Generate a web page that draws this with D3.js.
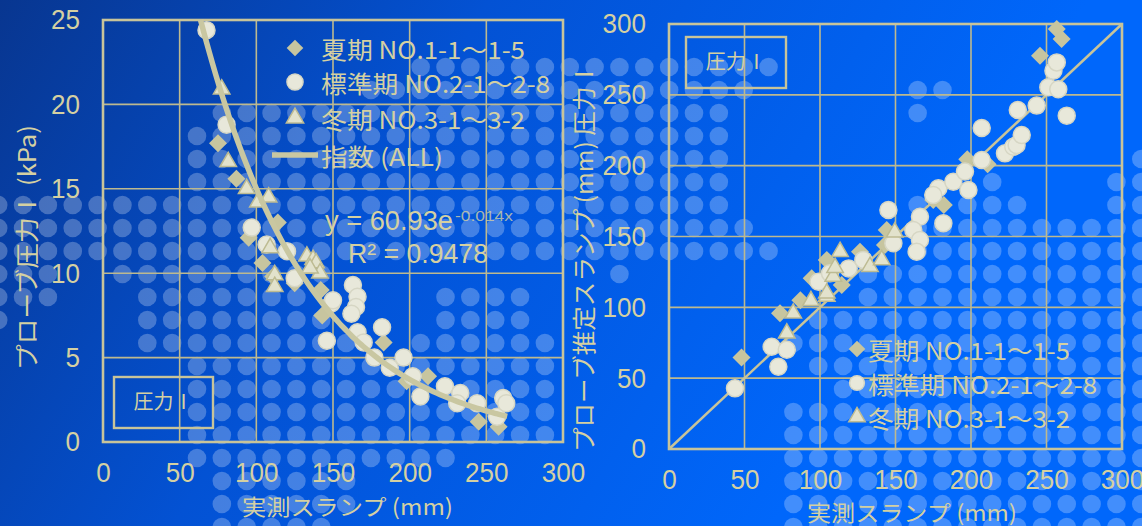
<!DOCTYPE html>
<html>
<head>
<meta charset="utf-8">
<script src="https://cdn.jsdelivr.net/npm/d3@7"></script>
<style>
  html, body { margin: 0; padding: 0; background: #0450d0; }
  svg { display: block; }
</style>
</head>
<body>
<div id="chart"></div>
<script>
// ---- data ----
const seriesNames = ["夏期 NO.1-1～1-5", "標準期 NO.2-1～2-8", "冬期 NO.3-1～3-2"];
const trendName = "指数 (ALL)";

const xTicks = [0, 50, 100, 150, 200, 250, 300];
const leftYTicks = [0, 5, 10, 15, 20, 25];
const rightYTicks = [0, 50, 100, 150, 200, 250, 300];

// left chart: measured slump vs probe pressure I (kPa)
const leftSummerX = [75, 87, 95, 104, 111, 114, 125, 142, 143, 183, 198, 212, 245, 258];
const leftSummerY = [17.7, 15.6, 12.1, 10.6, 9.8, 13.0, 9.4, 9.0, 7.5, 5.9, 3.6, 3.9, 1.2, 0.9];
const leftStdX = [67.5, 80.6, 97, 106.7, 120, 125, 149, 150, 163, 166, 165, 162, 146, 166, 182, 170, 177, 196, 187, 202, 207, 223, 233, 231, 244, 257, 261, 263];
const leftStdY = [24.4, 18.8, 12.7, 11.7, 11.3, 9.7, 8.2, 8.4, 9.3, 8.6, 8.0, 7.6, 6.0, 6.5, 6.8, 5.9, 5.0, 5.0, 4.4, 3.9, 2.7, 3.3, 2.9, 2.3, 2.3, 1.5, 2.6, 2.3];
const leftWinterX = [77.4, 81.7, 93.7, 101, 108, 109, 112, 112, 133, 137, 139, 141.5, 135];
const leftWinterY = [20.9, 16.6, 15.0, 14.2, 14.5, 11.5, 9.9, 9.2, 11.0, 10.8, 10.6, 10.0, 10.3];

// exponential trend shown on the chart: y = 60.93e^(-0.014x)
const trendA = 60.93;
const trendB = -0.014;
const trendRange = [63.6, 264];

// right chart: measured slump vs estimated slump (mm)
const rightSummerX = [48, 73.5, 87, 94.5, 104.5, 114.4, 126.5, 143, 144.2, 175, 182, 197.5, 211, 245.7, 256.8, 260];
const rightSummerY = [64.6, 95.8, 105, 120.6, 133.5, 115.8, 139.3, 144, 154.6, 175.8, 172.2, 204.5, 201, 277.6, 296.5, 289.4];
const rightStdX = [43.7, 68, 78, 72.4, 99, 106.6, 119, 128.7, 148.6, 145.3, 166.2, 161.8, 166.2, 164, 181.7, 178.4, 175, 188.3, 198.3, 196, 207.1, 207.1, 222.5, 228, 230.2, 233.6, 231, 243.5, 251.2, 257.8, 254.6, 256.8, 263.4];
const rightStdY = [42.8, 72.2, 70, 58.1, 118, 124, 127.5, 133.5, 145.2, 168.7, 164, 154.6, 147.5, 139.3, 159.3, 184, 179.3, 188.7, 182.8, 195.8, 204, 226.6, 208.7, 213.4, 214.6, 221.6, 239.3, 242.4, 255.3, 254, 267, 272.9, 235.3];
const rightWinterX = [78, 82.3, 94, 104.5, 104.5, 108.8, 110, 113.3, 133.1, 140.9, 149.5];
const rightWinterY = [81.7, 95.8, 104.6, 107.6, 110, 121.8, 128, 139.3, 128.7, 133.5, 153];
const diagonal = [0, 300];

// decorative dot pattern of the slide background: per row, runs of columns
const dotMask = [
  [[17, 31]],
  [[15, 30], [37, 38]],
  [[9, 29], [37, 37]],
  [[8, 29]],
  [[8, 29], [46, 46]],
  [[8, 29], [40, 40], [45, 46]],
  [[0, 29], [37, 37], [39, 41], [45, 46]],
  [[0, 30], [37, 46]],
  [[0, 31], [37, 46]],
  [[0, 2], [5, 13], [25, 25], [35, 46]],
  [[0, 2], [6, 12], [18, 21], [35, 46]],
  [[0, 0], [6, 13], [18, 21], [33, 46]],
  [[6, 14], [17, 22], [32, 46]],
  [[8, 22], [33, 46]],
  [[8, 22], [34, 46]],
  [[8, 22], [32, 46]],
  [[8, 22], [32, 46]],
  [[8, 18], [32, 46]],
  [[9, 14], [32, 46]],
  [[9, 14], [32, 46]],
  [[9, 13], [32, 46]]
];

// ---- drawing ----
const W = 1142, H = 526;
const ink = "#d4d0a2";
const gridCol = "#bdb98f";
const cjk = "'Noto Sans CJK JP', 'Noto Sans CJK SC', sans-serif";
const num = "'Liberation Sans', Arial, sans-serif";

const svg = d3.select("#chart").append("svg")
  .attr("width", W).attr("height", H);

const defs = svg.append("defs");
const grad = defs.append("linearGradient").attr("id", "bg")
  .attr("gradientUnits", "userSpaceOnUse")
  .attr("x1", 0).attr("y1", 0).attr("x2", 800).attr("y2", 480);
grad.append("stop").attr("offset", 0).attr("stop-color", "#083690");
grad.append("stop").attr("offset", 0.45).attr("stop-color", "#0352d4");
grad.append("stop").attr("offset", 1).attr("stop-color", "#0067fb");

svg.append("rect").attr("width", W).attr("height", H).attr("fill", "url(#bg)");

// background dots
const dots = [];
dotMask.forEach((runs, r) => {
  runs.forEach(([a, b]) => {
    for (let p = a; p <= b; p++) dots.push([-1.8 + 24.85 * p, 67 + 23 * r]);
  });
});
svg.append("g").selectAll("circle").data(dots).join("circle")
  .attr("cx", d => d[0]).attr("cy", d => d[1]).attr("r", 9.3)
  .attr("fill", "#ffffff").attr("fill-opacity", 0.26);

// marker shapes
const diamondType = {
  draw(ctx, size) {
    const r = Math.sqrt(size / 2);
    ctx.moveTo(0, -r); ctx.lineTo(r, 0); ctx.lineTo(0, r); ctx.lineTo(-r, 0); ctx.closePath();
  }
};
const markerStyles = [
  { type: diamondType, size: 162, fill: "#c7c59f", stroke: "none" },
  { type: d3.symbolCircle, size: 227, fill: "#e8e8da", stroke: "#d6d6c4" },
  { type: d3.symbolTriangle, size: 118, fill: "#e2e2cc", stroke: "#bdbb92" }
];

function drawSeries(g, xs, ys, xScale, yScale, style) {
  g.append("g").selectAll("path").data(xs.map((x, i) => [x, ys[i]])).join("path")
    .attr("transform", d => `translate(${xScale(d[0])},${yScale(d[1])})`)
    .attr("d", d3.symbol().type(style.type).size(style.size))
    .attr("fill", style.fill)
    .attr("stroke", style.stroke).attr("stroke-width", 1.5);
}

function frame(g, xScale, yScale, yTicks) {
  const [x0, x1] = xScale.range();
  const [y0, y1] = yScale.range();
  g.append("g").selectAll("line").data(xTicks.slice(1, -1)).join("line")
    .attr("x1", d => xScale(d)).attr("x2", d => xScale(d))
    .attr("y1", y0).attr("y2", y1)
    .attr("stroke", gridCol).attr("stroke-width", 1.6);
  g.append("g").selectAll("line").data(yTicks.slice(1, -1)).join("line")
    .attr("x1", x0).attr("x2", x1)
    .attr("y1", d => yScale(d)).attr("y2", d => yScale(d))
    .attr("stroke", gridCol).attr("stroke-width", 1.6);
  g.append("rect")
    .attr("x", x0).attr("y", y1).attr("width", x1 - x0).attr("height", y0 - y1)
    .attr("fill", "none").attr("stroke", "#c8c49a").attr("stroke-width", 2.6);

  const ax = g.append("g").attr("transform", `translate(0,${y0})`)
    .call(d3.axisBottom(xScale).tickValues(xTicks).tickSize(0).tickPadding(20));
  const ay = g.append("g").attr("transform", `translate(${x0},0)`)
    .call(d3.axisLeft(yScale).tickValues(yTicks).tickSize(0).tickPadding(23));
  [ax, ay].forEach(a => {
    a.select(".domain").remove();
    a.selectAll("text")
      .attr("font-family", num).attr("font-size", 28).attr("fill", ink)
      .attr("textLength", d => String(d).length * 14.5)
      .attr("lengthAdjust", "spacingAndGlyphs");
  });
}

function label(g, txt, x, y, len, size, rotate) {
  g.append("text")
    .attr("transform", `translate(${x},${y})` + (rotate ? " rotate(-90)" : ""))
    .attr("text-anchor", "middle").attr("dominant-baseline", "central")
    .attr("font-family", cjk).attr("font-size", size).attr("fill", ink)
    .attr("textLength", len).attr("lengthAdjust", "spacingAndGlyphs")
    .text(txt);
}

function boxLabel(g, x, y, w, h, len) {
  g.append("rect").attr("x", x).attr("y", y).attr("width", w).attr("height", h)
    .attr("fill", "none").attr("stroke", "#c8c49a").attr("stroke-width", 2.4);
  label(g, "圧力Ⅰ", x + w / 2, y + h / 2 - 2, len, 20, false);
}

function legendRow(g, style, x, y, textX, txt, len, scale) {
  g.append("path")
    .attr("transform", `translate(${x},${y})`)
    .attr("d", d3.symbol().type(style.type).size(style.size * scale))
    .attr("fill", style.fill).attr("stroke", style.stroke).attr("stroke-width", 1.5);
  g.append("text").attr("x", textX).attr("y", y)
    .attr("dominant-baseline", "central")
    .attr("font-family", cjk).attr("font-size", 24).attr("fill", ink)
    .attr("textLength", len).attr("lengthAdjust", "spacingAndGlyphs")
    .text(txt);
}

// ---------- left chart ----------
const xL = d3.scaleLinear().domain([0, 300]).range([103, 563]);
const yL = d3.scaleLinear().domain([0, 25]).range([442, 20]);
const gL = svg.append("g");
frame(gL, xL, yL, leftYTicks);

drawSeries(gL, leftSummerX, leftSummerY, xL, yL, markerStyles[0]);
drawSeries(gL, leftStdX, leftStdY, xL, yL, markerStyles[1]);
drawSeries(gL, leftWinterX, leftWinterY, xL, yL, markerStyles[2]);

const trendXs = d3.range(trendRange[0], trendRange[1] + 0.001, 2);
gL.append("path")
  .datum(trendXs.map(x => [x, trendA * Math.exp(trendB * x)]))
  .attr("d", d3.line().x(d => xL(d[0])).y(d => yL(d[1])).curve(d3.curveMonotoneX))
  .attr("fill", "none").attr("stroke", "#c9c7a1").attr("stroke-width", 5.5);

// legend (left)
legendRow(gL, markerStyles[0], 295, 48, 321, seriesNames[0], 204, 0.85);
legendRow(gL, markerStyles[1], 295, 82, 321, seriesNames[1], 229, 0.9);
legendRow(gL, markerStyles[2], 295, 118, 321, seriesNames[2], 204, 1.1);
gL.append("line").attr("x1", 272).attr("x2", 318).attr("y1", 155).attr("y2", 155)
  .attr("stroke", "#c9c7a1").attr("stroke-width", 5.5);
gL.append("text").attr("x", 321).attr("y", 155).attr("dominant-baseline", "central")
  .attr("font-family", cjk).attr("font-size", 24).attr("fill", ink)
  .attr("textLength", 122).attr("lengthAdjust", "spacingAndGlyphs")
  .text(trendName);

// equation
gL.append("text").attr("x", 325).attr("y", 230)
  .attr("font-family", num).attr("font-size", 27).attr("fill", ink)
  .attr("textLength", 128).attr("lengthAdjust", "spacingAndGlyphs")
  .text(`y = ${trendA}e`);
gL.append("text").attr("x", 455).attr("y", 221)
  .attr("font-family", num).attr("font-size", 15).attr("fill", ink).attr("fill-opacity", 0.8)
  .attr("textLength", 58).attr("lengthAdjust", "spacingAndGlyphs")
  .text(`${trendB}x`);
gL.append("text").attr("x", 348).attr("y", 263)
  .attr("font-family", num).attr("font-size", 27).attr("fill", ink)
  .attr("textLength", 140).attr("lengthAdjust", "spacingAndGlyphs")
  .text("R² = 0.9478");

boxLabel(gL, 114, 377, 99, 51, 60);
label(gL, "実測スランプ (mm)", 347.5, 505, 211, 22, false);
label(gL, "プローブ圧力Ⅰ (kPa)", 25, 247.5, 245, 24, true);

// ---------- right chart ----------
const xR = d3.scaleLinear().domain([0, 300]).range([669, 1122]);
const yR = d3.scaleLinear().domain([0, 300]).range([449, 24]);
const gR = svg.append("g");
frame(gR, xR, yR, rightYTicks);

gR.append("line")
  .attr("x1", xR(diagonal[0])).attr("y1", yR(diagonal[0]))
  .attr("x2", xR(diagonal[1])).attr("y2", yR(diagonal[1]))
  .attr("stroke", "#c8c49a").attr("stroke-width", 2.5);

drawSeries(gR, rightSummerX, rightSummerY, xR, yR, markerStyles[0]);
drawSeries(gR, rightStdX, rightStdY, xR, yR, markerStyles[1]);
drawSeries(gR, rightWinterX, rightWinterY, xR, yR, markerStyles[2]);

legendRow(gR, markerStyles[0], 857, 349, 868, seriesNames[0], 202, 0.85);
legendRow(gR, markerStyles[1], 857, 383, 868, seriesNames[1], 229, 0.75);
legendRow(gR, markerStyles[2], 857, 417, 868, seriesNames[2], 202, 1.0);

boxLabel(gR, 686, 37, 100, 51, 61);
label(gR, "実測スランプ (mm)", 912, 511, 210, 22, false);
label(gR, "プローブ推定スランプ (mm) 圧力Ⅰ", 582, 257, 390, 24, true);
</script>
</body>
</html>
